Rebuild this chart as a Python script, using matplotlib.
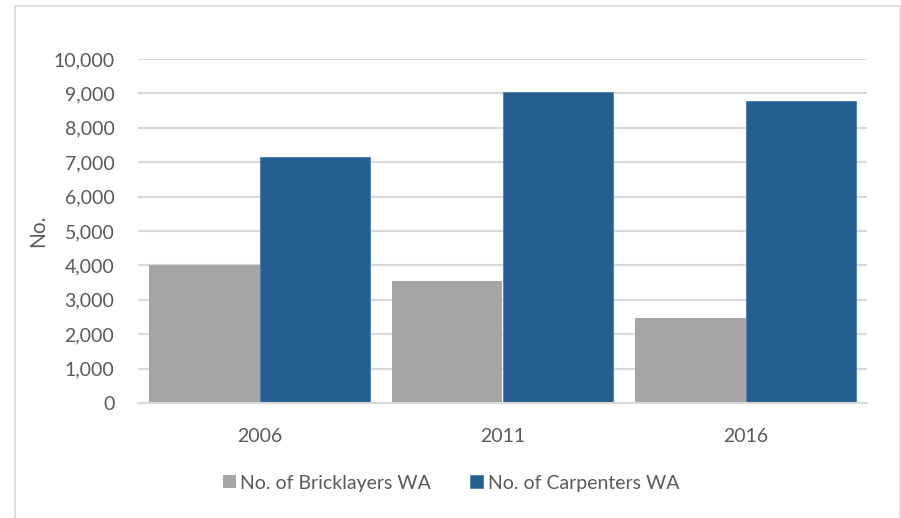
import matplotlib
matplotlib.use("Agg")
import matplotlib.pyplot as plt
import numpy as np
from matplotlib.patches import Rectangle
from matplotlib.ticker import FuncFormatter

years = ["2006", "2011", "2016"]
bricklayers = [4010, 3540, 2470]
carpenters = [7140, 9050, 8790]
series_names = ["No. of Bricklayers WA", "No. of Carpenters WA"]
y_ticks = list(range(0, 10001, 1000))

plt.rcParams['font.family'] = ['Lato', 'DejaVu Sans']
text_color = '#595959'

fig = plt.figure(figsize=(9.01, 5.18), dpi=100)
ax = fig.add_axes([138/901, 1-403/518, (867-138)/901, (403-59)/518])

x = np.arange(len(years))
w = 0.4527
ax.bar(x - w/2, bricklayers, w, color='#a5a5a5', label=series_names[0], zorder=3)
ax.bar(x + w/2, carpenters, w, color='#255e91', label=series_names[1], zorder=3,
       edgecolor='#4a7cab', linewidth=0.6)

ax.set_xlim(-0.5, 2.5)
ax.set_ylim(0, 10000)
ax.set_yticks(y_ticks)
ax.yaxis.set_major_formatter(FuncFormatter(lambda v, p: f"{int(v):,}"))
ax.set_xticks(x)
ax.set_xticklabels(years)
ax.grid(axis='y', color='#d9d9d9', linewidth=1.5, zorder=0)
for s in ['top', 'right', 'left']:
    ax.spines[s].set_visible(False)
ax.spines['bottom'].set_color('#d9d9d9')
ax.spines['bottom'].set_linewidth(1.5)
ax.spines['bottom'].set_zorder(4)
ax.tick_params(axis='both', length=0, labelsize=14, colors=text_color)
ax.tick_params(axis='y', pad=17)
ax.tick_params(axis='x', pad=18)
ax.set_ylabel("No.", fontsize=15, color=text_color, labelpad=4)

leg = fig.legend(loc='center', bbox_to_anchor=(451/901, 1-483/518), ncol=2,
                 frameon=False, fontsize=14, handlelength=0.65, handleheight=0.65,
                 handletextpad=0.25, columnspacing=2.0)
for t in leg.get_texts():
    t.set_color(text_color)

fig.patches.append(Rectangle((15/901, -0.05), 885/901, 1.05 - 6/518,
                             transform=fig.transFigure, fill=False,
                             edgecolor='#d9d9d9', linewidth=1.2))

fig.savefig("out.png", dpi=100)
